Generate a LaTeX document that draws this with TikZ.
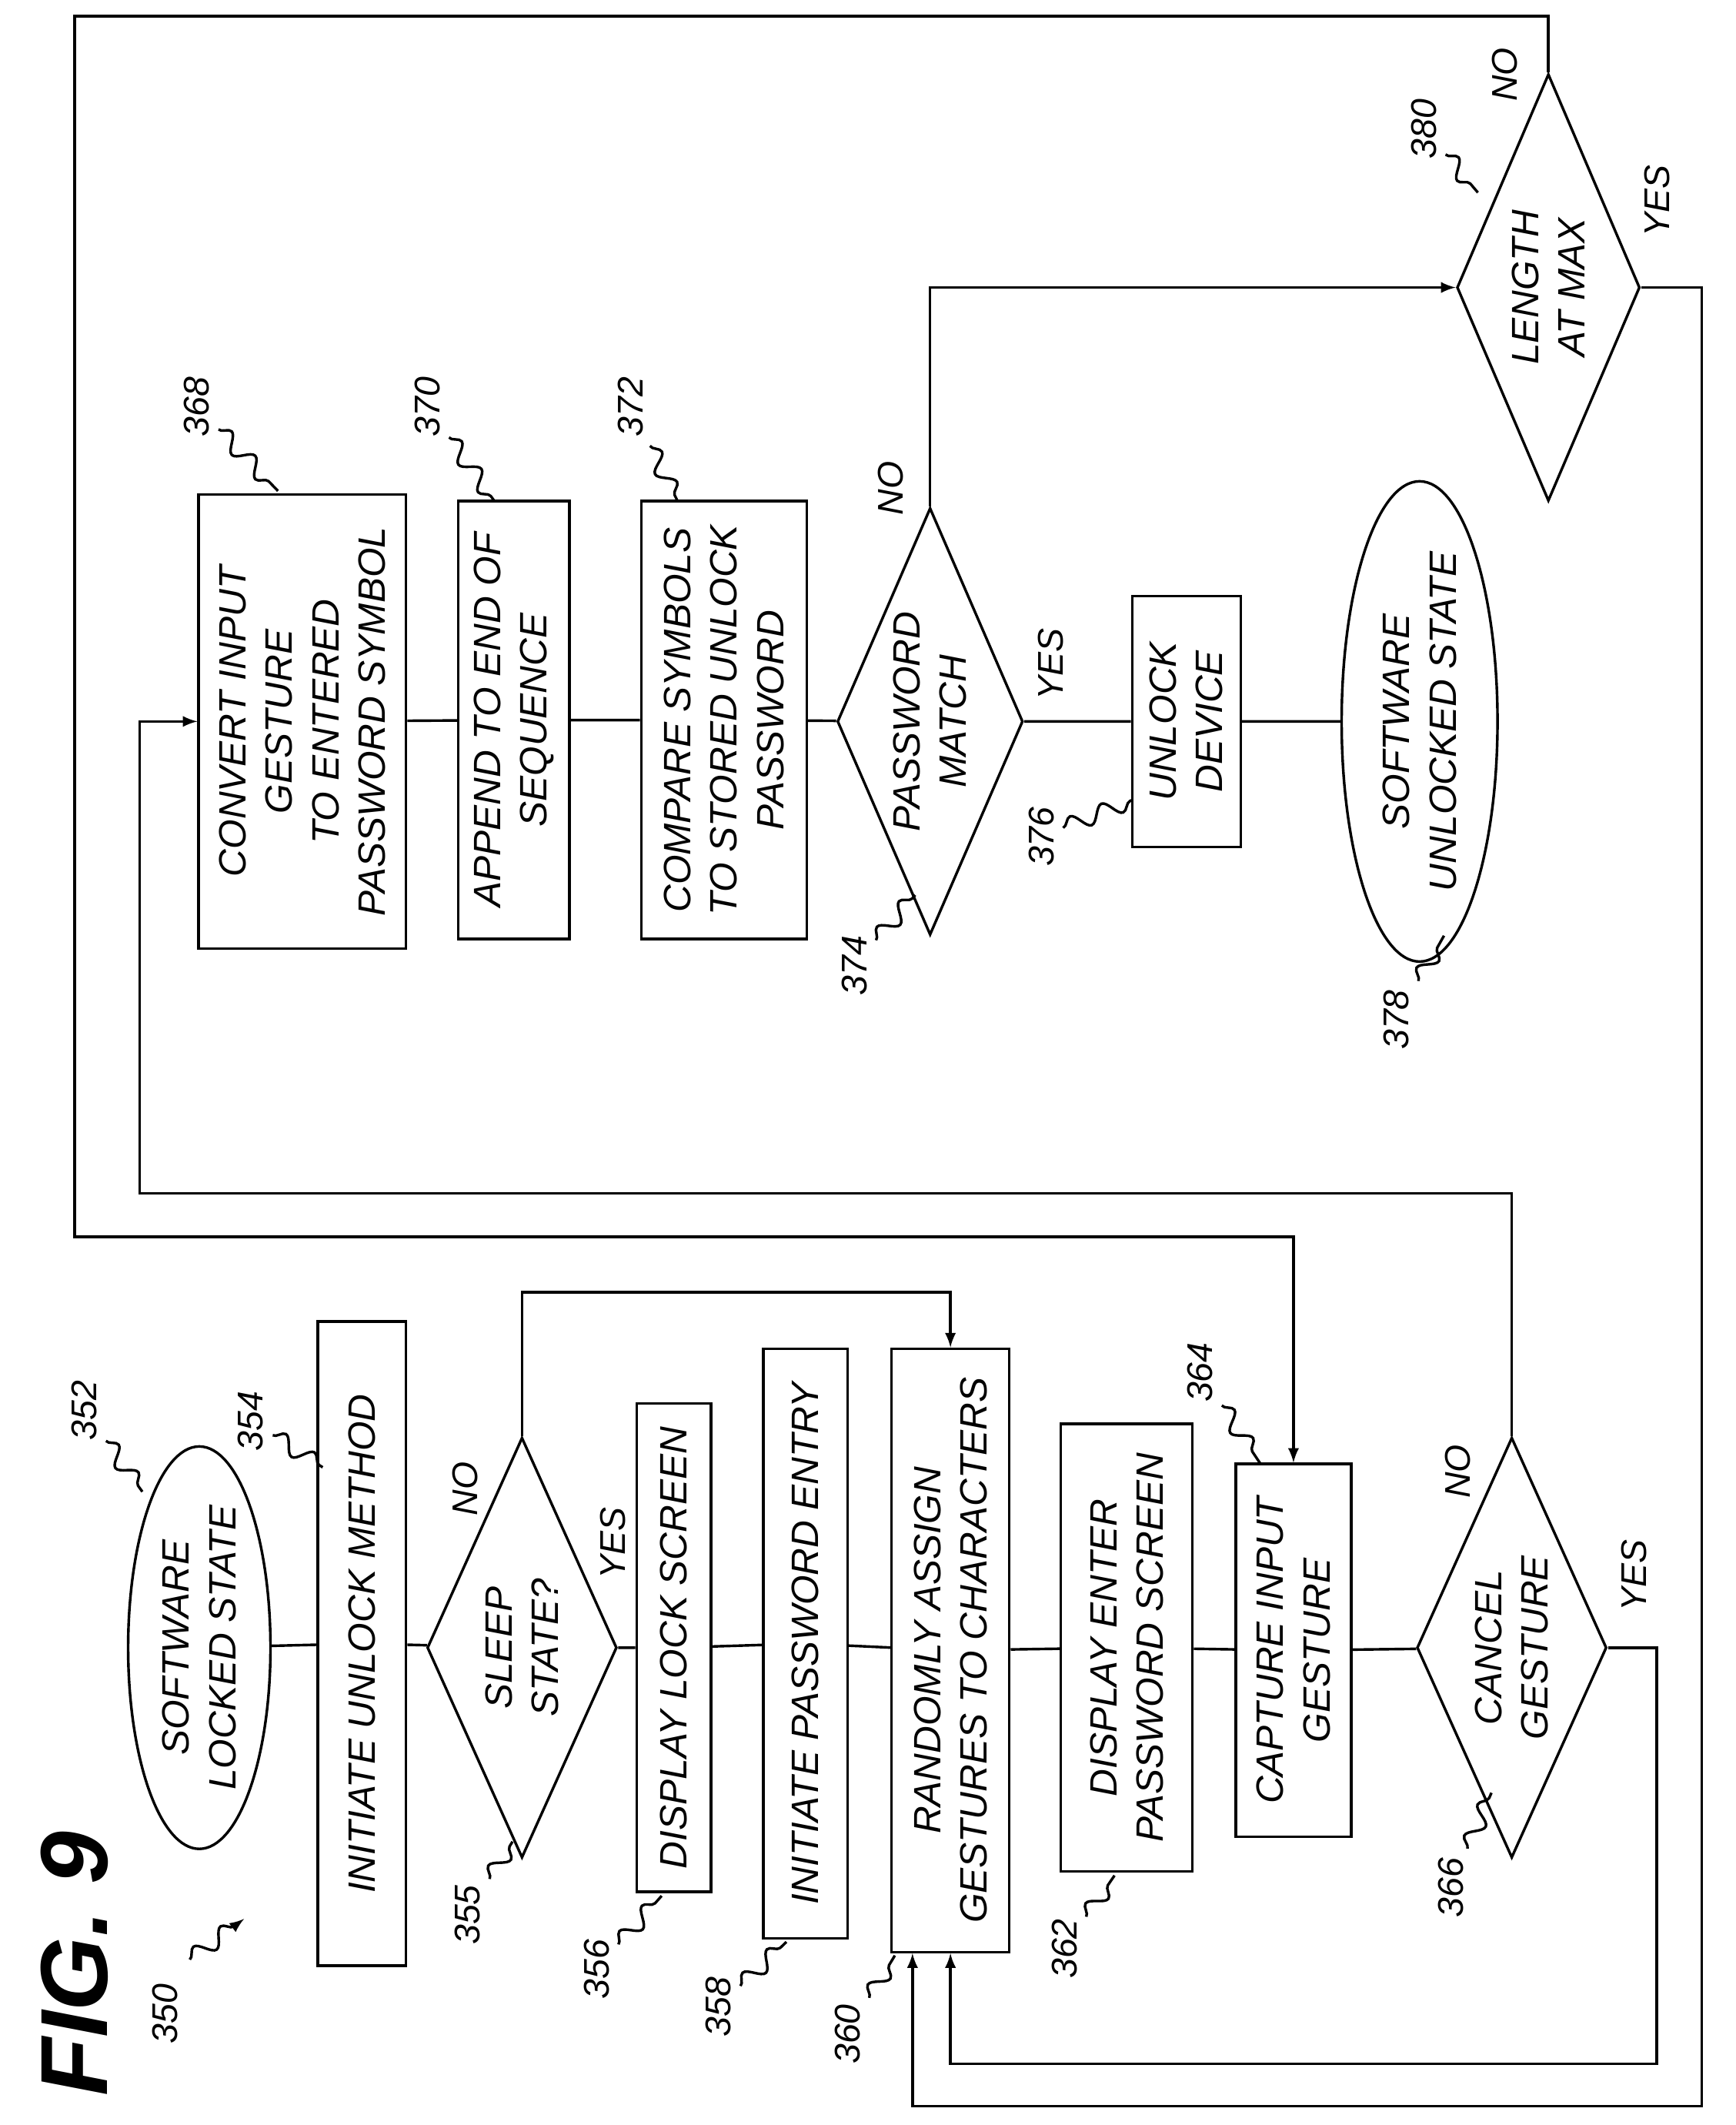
\documentclass[tikz,border=0pt]{standalone}
\usepackage{fontspec}
\setmainfont{Liberation Sans}
\usetikzlibrary{shapes.geometric,decorations.pathmorphing}
\tikzset{
  every node/.style={rotate=90, font=\fontsize{16}{19.5}\selectfont\itshape},
  box/.style 2 args={draw, rectangle, minimum width=#1cm, minimum height=#2cm, align=center, inner sep=1pt},
  oval/.style 2 args={draw, ellipse, minimum width=#1cm, minimum height=#2cm, align=center, inner sep=0pt},
  test/.style 2 args={draw, diamond, aspect=2.2, minimum width=#1cm, minimum height=#2cm, align=center, inner sep=0pt},
  lbl/.style={font=\fontsize{15}{18}\selectfont\itshape},
  squig/.style={decorate, decoration={snake, amplitude=1.2mm, segment length=5mm}},
}
\newcommand{\refnum}[4]{%
  \node[lbl] (#1) at (#2) {#3};
  \draw[squig] (#1) -- (#4);}
\begin{document}
\begin{tikzpicture}[x=0.02cm, y=-0.02cm, line width=1.1pt, >=latex]
\useasboundingbox (0,0) rectangle (1280,1567);

% lower flow
\node[oval={3.8}{2.1}] (locked) at (147,1215) {SOFTWARE\\LOCKED STATE};
\node[box={9.5}{1.3}] (initm) at (267,1212) {INITIATE UNLOCK METHOD};
\node[test={6.2}{2.8}] (sleep) at (385,1215) {SLEEP\\STATE?};
\node[box={7.2}{1.1}] (dlock) at (497,1215) {DISPLAY LOCK SCREEN};
\node[box={8.7}{1.24}] (initp) at (594,1212) {INITIATE PASSWORD ENTRY};
\node[box={8.9}{1.74}] (rand) at (701,1217) {RANDOMLY ASSIGN\\GESTURES TO CHARACTERS};
\node[box={6.6}{1.94}] (dpass) at (831,1215) {DISPLAY ENTER\\PASSWORD SCREEN};
\node[box={5.5}{1.7}] (capt) at (954,1217) {CAPTURE INPUT\\GESTURE};
\node[test={6.2}{2.8}] (cancel) at (1115,1215) {CANCEL\\GESTURE};

% upper flow
\node[box={6.7}{3.06}] (convert) at (223,532) {CONVERT INPUT\\GESTURE\\TO ENTERED\\PASSWORD SYMBOL};
\node[box={6.46}{1.64}] (append) at (379,531) {APPEND TO END OF\\SEQUENCE};
\node[box={6.46}{2.44}] (compare) at (534,531) {COMPARE SYMBOLS\\TO STORED UNLOCK\\PASSWORD};
\node[test={6.3}{2.74}] (pwmatch) at (686,532) {PASSWORD\\MATCH};
\node[box={3.7}{1.6}] (unlock) at (875,532) {UNLOCK\\DEVICE};
\node[oval={5.8}{2.3}] (unlocked) at (1047,532) {SOFTWARE\\UNLOCKED STATE};
\node[test={6.3}{2.7}] (lenmax) at (1142,212) {LENGTH\\AT MAX};

\node[font=\fontsize{40}{40}\selectfont\bfseries\itshape] (fig) at (55,1448) {FIG. 9};

% bend points
\coordinate (sleepno) at (385,953);
\coordinate (cancelno) at (103,880);
\coordinate (cancelyes) at (1222,1522);
\coordinate (lentop) at (55,12);
\coordinate (lenleft) at (55,912);
\coordinate (lenyes) at (1255,1553);

\draw (locked) -- (initm) -- (sleep) -- (dlock) -- (initp) -- (rand)
      -- (dpass) -- (capt) -- (cancel);
\draw (convert) -- (append) -- (compare) -- (pwmatch) -- (unlock) -- (unlocked);

\draw[->] (sleep.east) |- (sleepno) -| (rand.east);
\draw[->] (cancel.south) -| (cancelyes) -| (rand.west);
\draw[->] (cancel.east) |- (cancelno) |- (convert.north);
\draw[->] (pwmatch.east) |- (lenmax.north);
\draw[->] (lenmax.east) |- (lentop) -- (lenleft) -| (capt.east);
\draw[->] (lenmax.south) -| (lenyes) -| ([xshift=-0.56cm]rand.west);

% branch labels
\node[lbl] (sleepn) at (343,1098) {NO};
\node[lbl] (sleepy) at (452,1138) {YES};
\node[lbl] (cancn) at (1075,1085) {NO};
\node[lbl] (cancy) at (1205,1162) {YES};
\node[lbl] (pwn) at (657,360) {NO};
\node[lbl] (pwy) at (775,490) {YES};
\node[lbl] (lenn) at (1110,55) {NO};
\node[lbl] (leny) at (1222,148) {YES};

% reference numerals
\refnum{r352}{62,1040}{352}{105,1100}
\refnum{r354}{185,1048}{354}{238,1082}
\refnum{r355}{345,1412}{355}{378,1358}
\refnum{r356}{440,1452}{356}{488,1398}
\refnum{r358}{530,1480}{358}{580,1432}
\refnum{r360}{625,1500}{360}{660,1442}
\refnum{r362}{785,1437}{362}{822,1383}
\refnum{r364}{885,1012}{364}{930,1080}
\refnum{r366}{1070,1392}{366}{1100,1322}
\refnum{r368}{145,300}{368}{205,362}
\refnum{r370}{315,300}{370}{365,370}
\refnum{r372}{465,300}{372}{500,370}
\refnum{r374}{630,712}{374}{675,660}
\refnum{r376}{768,617}{376}{835,590}
\refnum{r378}{1030,752}{378}{1065,690}
\refnum{r380}{1050,95}{380}{1090,142}
\node[lbl] (r350) at (122,1485) {350};
\draw[->, squig] (140,1445) -- (180,1415);
\end{tikzpicture}
\end{document}
